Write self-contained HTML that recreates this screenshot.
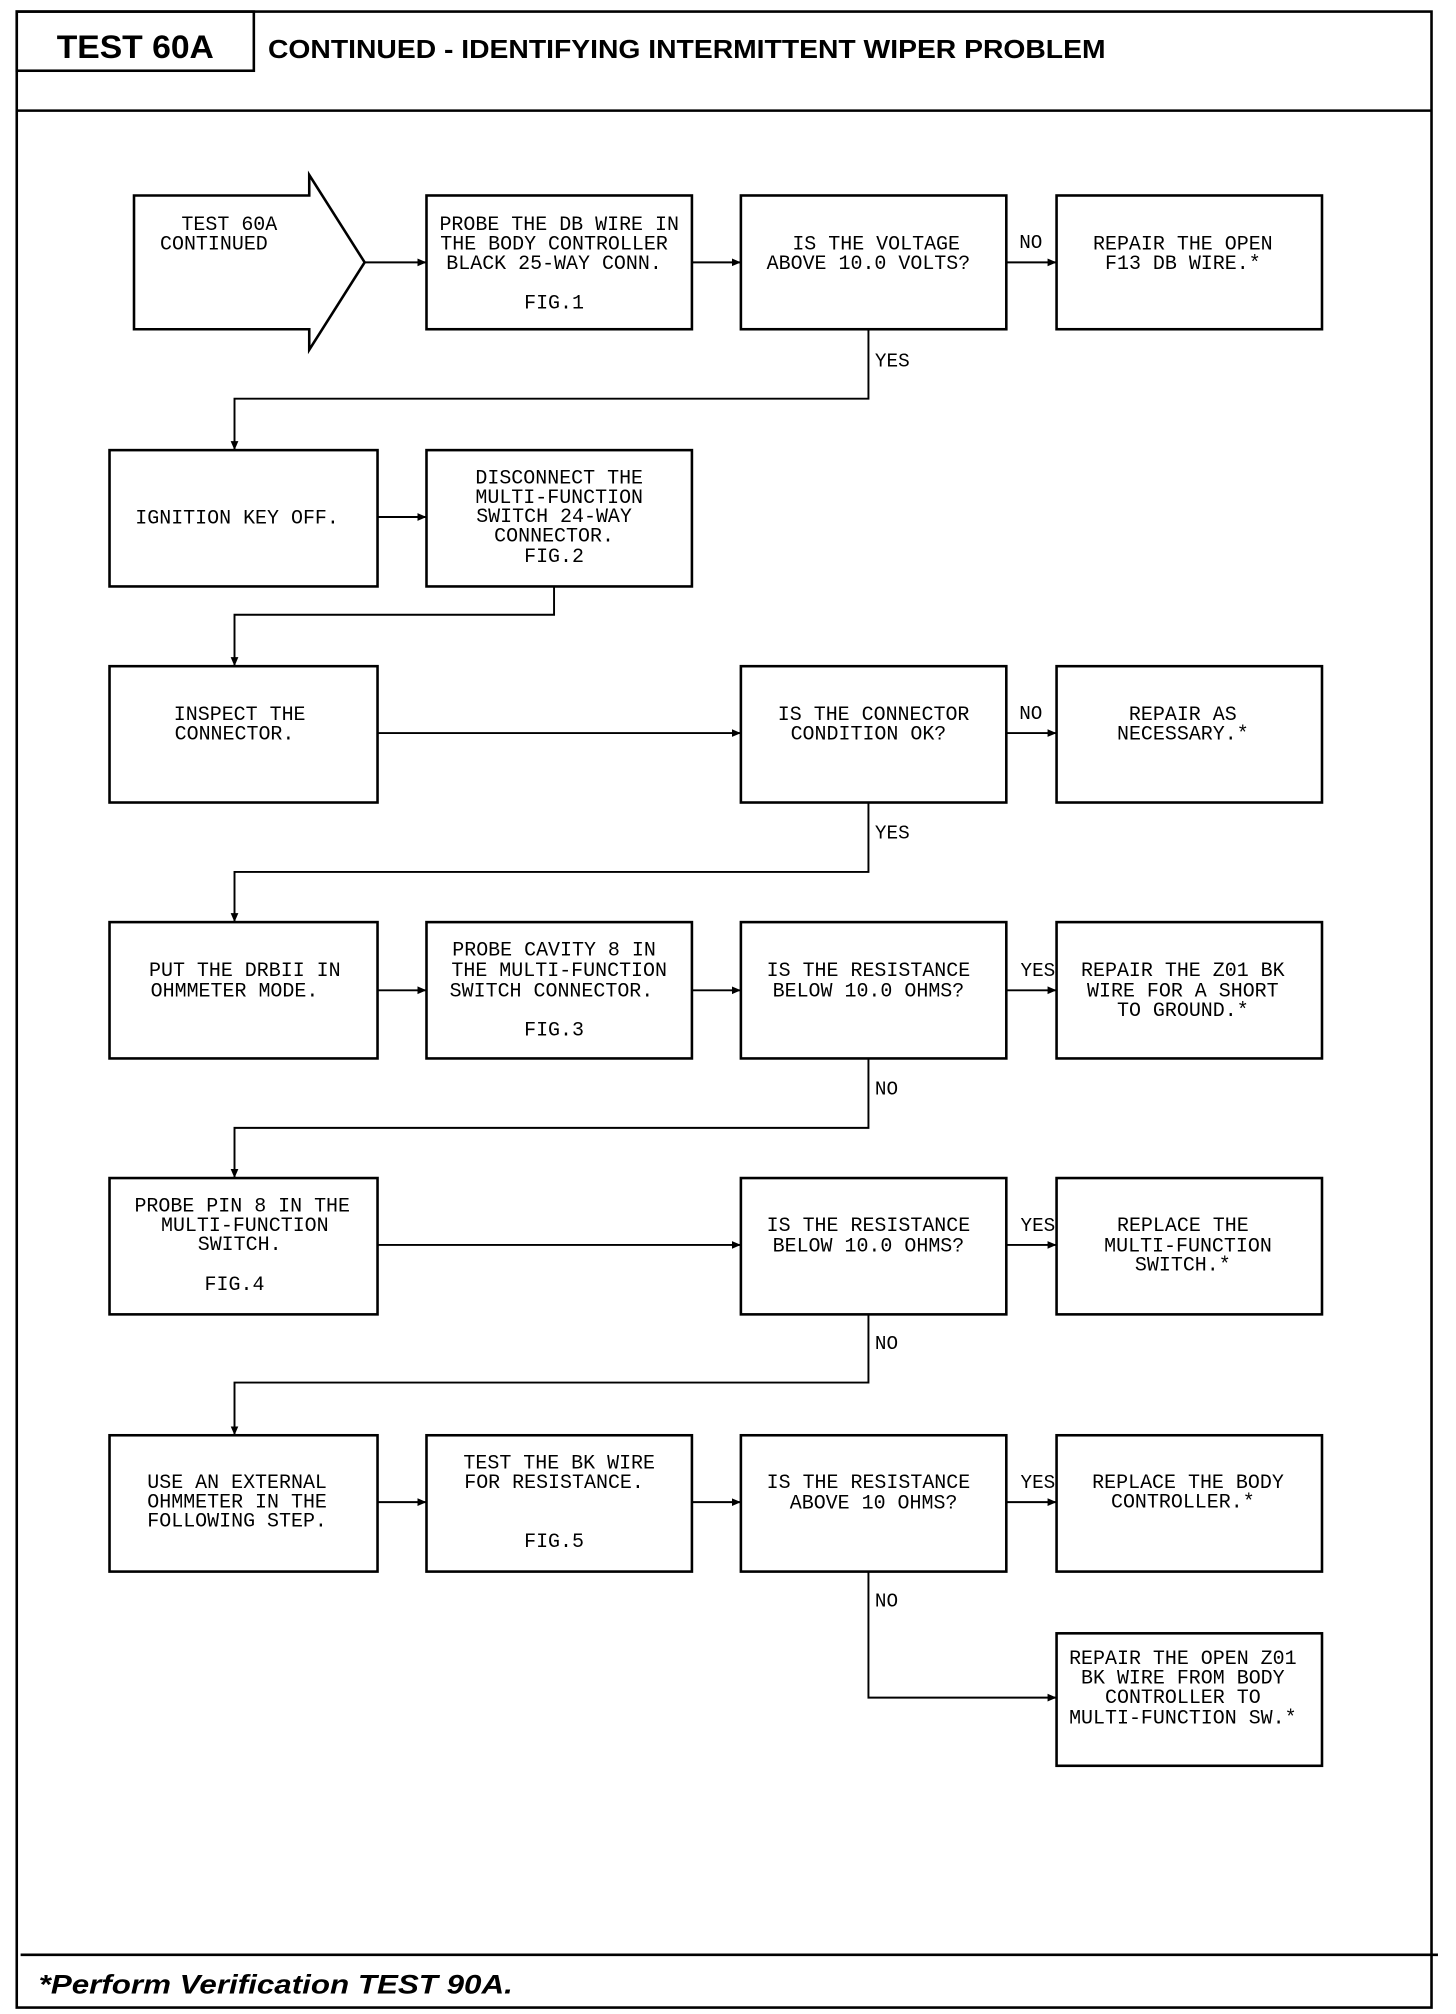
<!DOCTYPE html>
<html><head><meta charset="utf-8"><style>
html,body{margin:0;padding:0;background:#fff;}
svg{display:block;}
.t{font-family:"Liberation Mono",monospace;font-size:15.5px;fill:#000;text-anchor:middle;}
.l{font-family:"Liberation Mono",monospace;font-size:15px;fill:#000;}
</style></head><body>
<svg width="1456" height="2014" viewBox="0 0 1130 1566" preserveAspectRatio="none" xmlns="http://www.w3.org/2000/svg">
<defs><marker id="a" markerWidth="8" markerHeight="8" refX="7" refY="4" orient="auto" markerUnits="userSpaceOnUse"><path d="M0,1 L7,4 L0,7 Z" fill="#000"/></marker></defs>
<g fill="none" stroke="#000" stroke-width="2">
<rect x="13" y="9" width="1098" height="1552"/>
<line x1="13" y1="86" x2="1111" y2="86"/>
<rect x="13" y="9" width="184" height="46"/>
<line x1="16" y1="1520" x2="1116" y2="1520"/>
<!-- start arrow -->
<path d="M240,152 L104,152 L104,256 L240,256 L240,272 L283,204 L240,136 Z"/>
<rect x="331" y="152" width="206" height="104"/>
<rect x="575" y="152" width="206" height="104"/>
<rect x="820" y="152" width="206" height="104"/>
<rect x="85" y="350" width="208" height="106"/>
<rect x="331" y="350" width="206" height="106"/>
<rect x="85" y="518" width="208" height="106"/>
<rect x="575" y="518" width="206" height="106"/>
<rect x="820" y="518" width="206" height="106"/>
<rect x="85" y="717" width="208" height="106"/>
<rect x="331" y="717" width="206" height="106"/>
<rect x="575" y="717" width="206" height="106"/>
<rect x="820" y="717" width="206" height="106"/>
<rect x="85" y="916" width="208" height="106"/>
<rect x="575" y="916" width="206" height="106"/>
<rect x="820" y="916" width="206" height="106"/>
<rect x="85" y="1116" width="208" height="106"/>
<rect x="331" y="1116" width="206" height="106"/>
<rect x="575" y="1116" width="206" height="106"/>
<rect x="820" y="1116" width="206" height="106"/>
<rect x="820" y="1270" width="206" height="103"/>
</g>
<g fill="none" stroke="#000" stroke-width="1.5" marker-end="url(#a)">
<line x1="283" y1="204" x2="331" y2="204"/>
<line x1="537" y1="204" x2="575" y2="204"/>
<line x1="781" y1="204" x2="820" y2="204"/>
<path d="M674,256 V310 H182 V350"/>
<line x1="293" y1="402" x2="331" y2="402"/>
<path d="M430,456 V478 H182 V518"/>
<line x1="293" y1="570" x2="575" y2="570"/>
<line x1="781" y1="570" x2="820" y2="570"/>
<path d="M674,624 V678 H182 V717"/>
<line x1="293" y1="770" x2="331" y2="770"/>
<line x1="537" y1="770" x2="575" y2="770"/>
<line x1="781" y1="770" x2="820" y2="770"/>
<path d="M674,823 V877 H182 V916"/>
<line x1="293" y1="968" x2="575" y2="968"/>
<line x1="781" y1="968" x2="820" y2="968"/>
<path d="M674,1022 V1075 H182 V1116"/>
<line x1="293" y1="1168" x2="331" y2="1168"/>
<line x1="537" y1="1168" x2="575" y2="1168"/>
<line x1="781" y1="1168" x2="820" y2="1168"/>
<path d="M674,1222 V1320 H820"/>
</g>
<text x="105" y="45" font-family="Liberation Sans,sans-serif" font-weight="bold" font-size="25" text-anchor="middle" textLength="122" lengthAdjust="spacingAndGlyphs">TEST 60A</text>
<text x="208" y="45" font-family="Liberation Sans,sans-serif" font-weight="bold" font-size="20" textLength="650" lengthAdjust="spacingAndGlyphs">CONTINUED - IDENTIFYING INTERMITTENT WIPER PROBLEM</text>
<text x="30" y="1550" font-family="Liberation Sans,sans-serif" font-weight="bold" font-style="italic" font-size="21" textLength="368" lengthAdjust="spacingAndGlyphs">*Perform Verification TEST 90A.</text>

<text class="t"><tspan x="178" y="179">TEST 60A</tspan><tspan x="166" y="194">CONTINUED</tspan></text>
<text class="t"><tspan x="434" y="179">PROBE THE DB WIRE IN</tspan><tspan x="430" y="194">THE BODY CONTROLLER</tspan><tspan x="430" y="209">BLACK 25-WAY CONN.</tspan><tspan x="430" y="240">FIG.1</tspan></text>
<text class="t"><tspan x="680" y="194">IS THE VOLTAGE</tspan><tspan x="674" y="209">ABOVE 10.0 VOLTS?</tspan></text>
<text class="t"><tspan x="918" y="194">REPAIR THE OPEN</tspan><tspan x="918" y="209">F13 DB WIRE.*</tspan></text>
<text class="t"><tspan x="184" y="407">IGNITION KEY OFF.</tspan></text>
<text class="t"><tspan x="434" y="376">DISCONNECT THE</tspan><tspan x="434" y="391">MULTI-FUNCTION</tspan><tspan x="430" y="406">SWITCH 24-WAY</tspan><tspan x="430" y="421">CONNECTOR.</tspan><tspan x="430" y="437">FIG.2</tspan></text>
<text class="t"><tspan x="186" y="560">INSPECT THE</tspan><tspan x="182" y="575">CONNECTOR.</tspan></text>
<text class="t"><tspan x="678" y="560">IS THE CONNECTOR</tspan><tspan x="674" y="575">CONDITION OK?</tspan></text>
<text class="t"><tspan x="918" y="560">REPAIR AS</tspan><tspan x="918" y="575">NECESSARY.*</tspan></text>
<text class="t"><tspan x="190" y="759">PUT THE DRBII IN</tspan><tspan x="182" y="775">OHMMETER MODE.</tspan></text>
<text class="t"><tspan x="430" y="743">PROBE CAVITY 8 IN</tspan><tspan x="434" y="759">THE MULTI-FUNCTION</tspan><tspan x="428" y="775">SWITCH CONNECTOR.</tspan><tspan x="430" y="805">FIG.3</tspan></text>
<text class="t"><tspan x="674" y="759">IS THE RESISTANCE</tspan><tspan x="674" y="775">BELOW 10.0 OHMS?</tspan></text>
<text class="t"><tspan x="918" y="759">REPAIR THE Z01 BK</tspan><tspan x="918" y="775">WIRE FOR A SHORT</tspan><tspan x="918" y="790">TO GROUND.*</tspan></text>
<text class="t"><tspan x="188" y="942">PROBE PIN 8 IN THE</tspan><tspan x="190" y="957">MULTI-FUNCTION</tspan><tspan x="186" y="972">SWITCH.</tspan><tspan x="182" y="1003">FIG.4</tspan></text>
<text class="t"><tspan x="674" y="957">IS THE RESISTANCE</tspan><tspan x="674" y="973">BELOW 10.0 OHMS?</tspan></text>
<text class="t"><tspan x="918" y="957">REPLACE THE</tspan><tspan x="922" y="973">MULTI-FUNCTION</tspan><tspan x="918" y="988">SWITCH.*</tspan></text>
<text class="t"><tspan x="184" y="1157">USE AN EXTERNAL</tspan><tspan x="184" y="1172">OHMMETER IN THE</tspan><tspan x="184" y="1187">FOLLOWING STEP.</tspan></text>
<text class="t"><tspan x="434" y="1142">TEST THE BK WIRE</tspan><tspan x="430" y="1157">FOR RESISTANCE.</tspan><tspan x="430" y="1203">FIG.5</tspan></text>
<text class="t"><tspan x="674" y="1157">IS THE RESISTANCE</tspan><tspan x="678" y="1173">ABOVE 10 OHMS?</tspan></text>
<text class="t"><tspan x="922" y="1157">REPLACE THE BODY</tspan><tspan x="918" y="1172">CONTROLLER.*</tspan></text>
<text class="t"><tspan x="918" y="1294">REPAIR THE OPEN Z01</tspan><tspan x="918" y="1309">BK WIRE FROM BODY</tspan><tspan x="918" y="1324">CONTROLLER TO</tspan><tspan x="918" y="1340">MULTI-FUNCTION SW.*</tspan></text>

<text class="l" x="791" y="193">NO</text>
<text class="l" x="679" y="285">YES</text>
<text class="l" x="791" y="559">NO</text>
<text class="l" x="679" y="652">YES</text>
<text class="l" x="792" y="759">YES</text>
<text class="l" x="679" y="851">NO</text>
<text class="l" x="792" y="957">YES</text>
<text class="l" x="679" y="1049">NO</text>
<text class="l" x="792" y="1157">YES</text>
<text class="l" x="679" y="1249">NO</text>
</svg>
</body></html>
